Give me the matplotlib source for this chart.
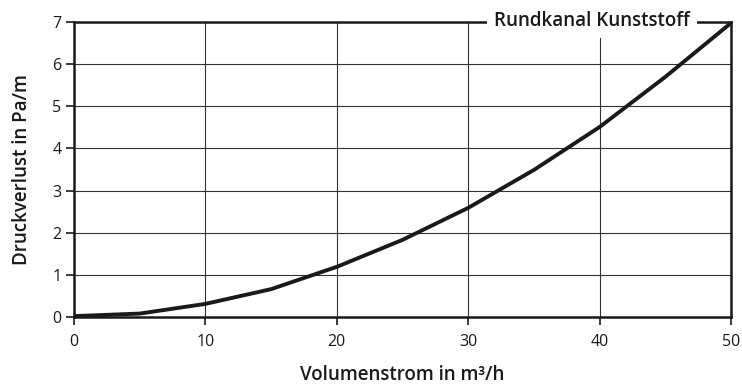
import matplotlib.pyplot as plt

plt.rcParams['font.family'] = ['Open Sans', 'DejaVu Sans']

# Druckverlust Rundkanal Kunststoff
volumenstrom = [0, 5, 10, 15, 20, 25, 30, 35, 40, 45, 50]
druckverlust = [0.02, 0.08, 0.31, 0.66, 1.19, 1.83, 2.59, 3.49, 4.51, 5.70, 6.98]

x_ticks = [0, 10, 20, 30, 40, 50]
y_ticks = [0, 1, 2, 3, 4, 5, 6, 7]

fig = plt.figure(figsize=(7.42, 3.87), dpi=100)
ax = fig.add_axes([0.0997, 0.181, 0.8856, 0.762])

ax.plot(volumenstrom, druckverlust, color='#1a1a1a', linewidth=2.8,
        solid_capstyle='butt', zorder=4, clip_on=False)

ax.set_xlim(0, 50)
ax.set_ylim(0, 7)
ax.set_xticks(x_ticks)
ax.set_yticks(y_ticks)
ax.grid(True, color='#333333', linewidth=0.8)
ax.set_axisbelow(True)

for side in ['left', 'bottom', 'top', 'right']:
    ax.spines[side].set_linewidth(1.8)
    ax.spines[side].set_color('#1a1a1a')
    ax.spines[side].set_zorder(5)

ax.tick_params(axis='both', direction='out', length=6, width=1.2,
               color='#1a1a1a', labelsize=11.5, labelcolor='#1a1a1a')
ax.tick_params(axis='x', pad=6)
ax.tick_params(axis='y', pad=3)

ax.set_xlabel('Volumenstrom in m³/h', fontsize=13.5, fontweight='semibold',
              color='#1a1a1a', labelpad=11)
ax.set_ylabel('Druckverlust in Pa/m', fontsize=13.5, fontweight='semibold',
              color='#1a1a1a', labelpad=15)

ax.text(0.788, 1.005, 'Rundkanal Kunststoff', transform=ax.transAxes,
        ha='center', va='center', fontsize=13.5, fontweight='semibold',
        color='#1a1a1a', zorder=6,
        bbox=dict(facecolor='white', edgecolor='none', pad=5))

fig.savefig('out.png', dpi=100)
